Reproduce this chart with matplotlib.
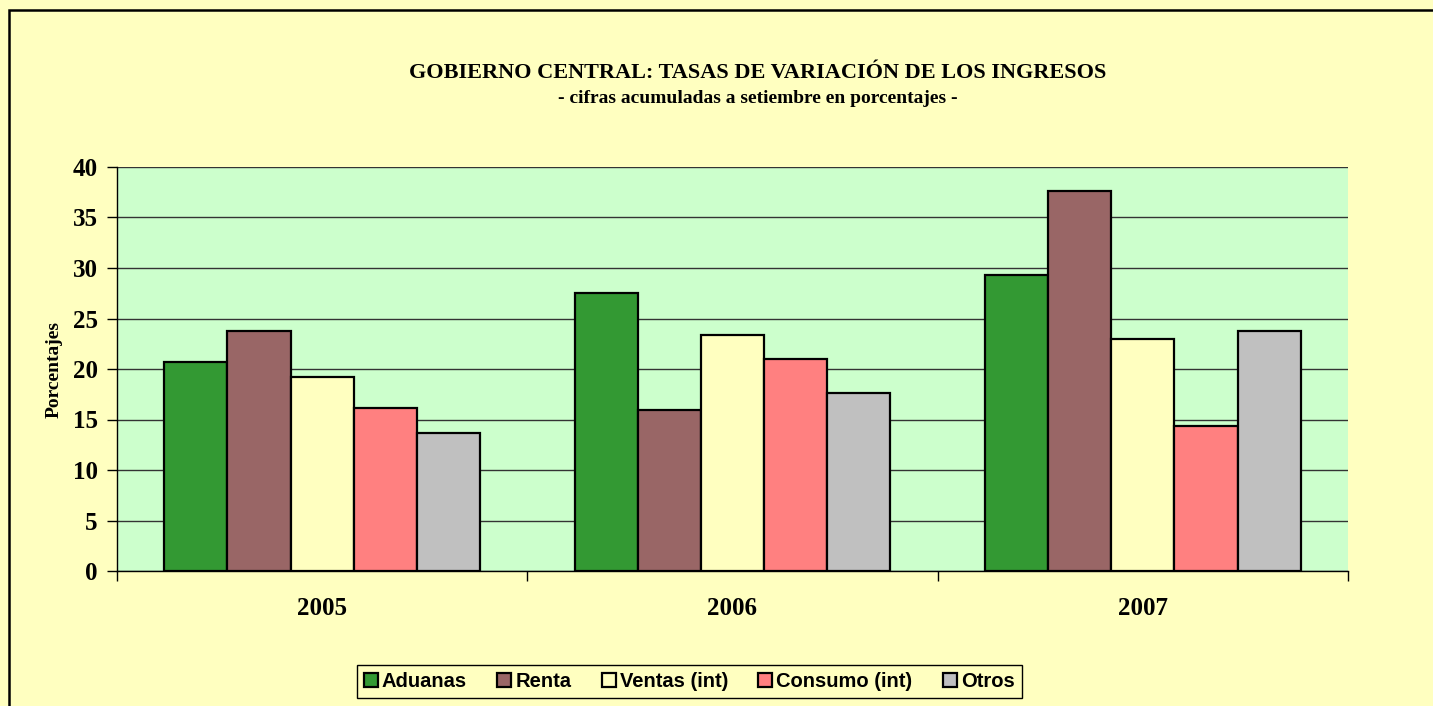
import numpy as np
import matplotlib
matplotlib.use("Agg")
import matplotlib.pyplot as plt
import matplotlib.patches as mpatches

years = ["2005", "2006", "2007"]
series = ["Aduanas", "Renta", "Ventas (int)", "Consumo (int)", "Otros"]
aduanas = [20.7, 27.5, 29.3]
renta = [23.8, 15.9, 37.6]
ventas = [19.2, 23.4, 23.0]
consumo = [16.1, 21.0, 14.4]
otros = [13.7, 17.6, 23.8]
values = [aduanas, renta, ventas, consumo, otros]
colors = ["#339933", "#996666", "#FFFFC0", "#FF8080", "#C0C0C0"]
yticks = [0, 5, 10, 15, 20, 25, 30, 35, 40]

fig_bg = "#FFFFC0"
plot_bg = "#CCFFCC"
serif = "Liberation Serif"

fig = plt.figure(figsize=(14.33, 7.06), dpi=100, facecolor=fig_bg)
ax = fig.add_axes([117/1433, 1-571/706, (1348-117)/1433, (571-167)/706])
ax.set_facecolor(plot_bg)

# outer chart frame (right and bottom run off the picture)
fig.patches.append(mpatches.Rectangle((9/1433, -0.05), 1.1, 1-10/706+0.05,
                                      transform=fig.transFigure, fill=False,
                                      edgecolor="black", linewidth=1.8, zorder=0))

bw = 1/6.5
x = np.arange(len(years)) + 0.5
for i, (name, vals) in enumerate(zip(series, values)):
  off = (i - 2) * bw
  ax.bar(x + off, vals, width=bw, color=colors[i], edgecolor="black",
         linewidth=1.6, label=name, zorder=3)

ax.set_xlim(0, 3)
ax.set_ylim(0, 40)
ax.set_yticks(yticks)
ax.yaxis.grid(True, color="#333333", linewidth=1.0, zorder=1)
ax.set_axisbelow(True)

for s in ["top", "right"]:
  ax.spines[s].set_visible(False)
ax.spines["left"].set_linewidth(1.0)
ax.spines["bottom"].set_linewidth(1.0)

# ticks sit on the group boundaries, labels in the middle of each group
ax.set_xticks([0, 1, 2, 3])
ax.set_xticklabels([])
ax.set_xticks(x, minor=True)
ax.set_xticklabels(years, minor=True, fontsize=18, fontweight="bold", family=serif)
ax.tick_params(axis="x", which="major", direction="out", length=7, width=1)
ax.tick_params(axis="x", which="minor", length=0, pad=19)
ax.tick_params(axis="y", direction="out", length=7, width=1, pad=7)
for lab in ax.get_yticklabels():
  lab.set_fontsize(18)
  lab.set_fontweight("bold")
  lab.set_family(serif)

ax.set_ylabel("Porcentajes", fontsize=14, fontweight="bold", family=serif)
ax.yaxis.set_label_coords(-0.044, 0.5)

fig.text(0.529, 0.897, "GOBIERNO CENTRAL: TASAS DE VARIACIÓN DE LOS INGRESOS",
         ha="center", va="center", fontsize=16, fontweight="bold", family=serif)
fig.text(0.529, 0.860, "- cifras acumuladas a setiembre en porcentajes -",
         ha="center", va="center", fontsize=14, fontweight="bold", family=serif)

leg = fig.legend(loc="center", bbox_to_anchor=(0.481, 0.035), ncol=5,
                 prop={"family": "Liberation Sans", "weight": "bold", "size": 14.5},
                 frameon=True, fancybox=False, edgecolor="black", facecolor=fig_bg,
                 handlelength=0.7, handleheight=0.7, handletextpad=0.2,
                 columnspacing=1.5, borderpad=0.35, borderaxespad=0)
leg.get_frame().set_linewidth(1.0)
leg.get_frame().set_alpha(None)

fig.savefig("out.png", dpi=100, facecolor=fig_bg)
